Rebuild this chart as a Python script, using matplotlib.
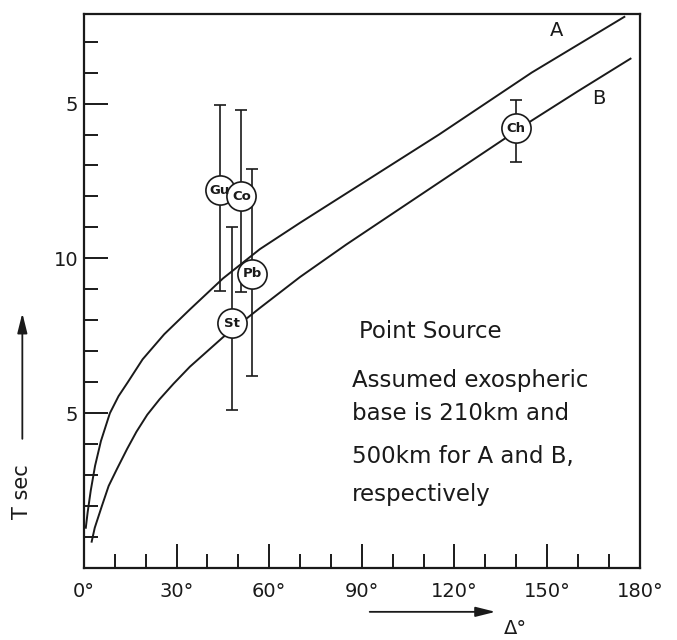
import matplotlib
matplotlib.use("Agg")
import matplotlib.pyplot as plt
from matplotlib.patches import FancyArrowPatch
from matplotlib.ticker import FixedLocator, MultipleLocator

# curve A: exospheric base 210 km
deg_a = [0.6, 1.2, 2.2, 3.6, 5.5, 8.4, 11.2, 14.2, 19, 26, 34.3, 45, 57, 70, 85, 100, 115, 130, 145, 160, 175]
t_a = [1.3, 1.8, 2.5, 3.3, 4.1, 5.0, 5.55, 6.0, 6.74, 7.55, 8.35, 9.35, 10.3, 11.15, 12.1, 13.05, 14.0, 15.0, 16.0, 16.9, 17.8]

# curve B: exospheric base 500 km
deg_b = [2.5, 3.5, 5.8, 8, 10.7, 14, 17, 20.5, 24.5, 29, 34.3, 45, 57, 70, 85, 100, 115, 130, 145, 160, 177]
t_b = [0.85, 1.3, 2.0, 2.65, 3.2, 3.85, 4.4, 4.95, 5.45, 5.95, 6.5, 7.45, 8.4, 9.4, 10.45, 11.45, 12.45, 13.45, 14.45, 15.4, 16.45]

# observed stations
stations = ["Gu", "Co", "Pb", "St", "Ch"]
station_deg = [44.0, 51.0, 54.5, 48.0, 139.8]
station_t = [12.2, 12.0, 9.5, 7.9, 14.2]
t_upper = [14.95, 14.8, 12.9, 11.0, 15.1]
t_lower = [8.95, 8.9, 6.2, 5.1, 13.1]

x_ticks = [0, 30, 60, 90, 120, 150, 180]
y_ticks = [5, 10, 15]
y_tick_labels = ["5", "10", "5"]

note_lines = [
    "Point Source",
    "Assumed exospheric",
    "base is 210km and",
    "500km for A and B,",
    "respectively",
]

plt.rcParams["font.family"] = ["DejaVu Sans"]
ink = "#1a1a1a"

fig = plt.figure(figsize=(6.77, 6.4), dpi=100)
ax = fig.add_axes([0.124, 0.1125, 0.821, 0.866])

ax.plot(deg_a, t_a, color=ink, lw=1.4, zorder=2)
ax.plot(deg_b, t_b, color=ink, lw=1.4, zorder=2)

for x, lo, hi in zip(station_deg, t_lower, t_upper):
    half = (hi - lo) / 2
    ax.errorbar([x], [lo + half], yerr=[[half], [half]], fmt="none", ecolor=ink,
                elinewidth=1.2, capsize=4, capthick=1.2, zorder=3)

ax.plot(station_deg, station_t, "o", ms=21, mfc="white", mec=ink, mew=1.2, zorder=4, ls="none")
for name, x, t in zip(stations, station_deg, station_t):
    ax.text(x, t, name, ha="center", va="center", fontsize=9.5, fontweight="bold",
            color=ink, zorder=5)

ax.set_xlim(0, 180)
ax.set_ylim(0, 17.9)

ax.xaxis.set_major_locator(FixedLocator(x_ticks))
ax.xaxis.set_minor_locator(MultipleLocator(10))
ax.set_xticklabels([f"{v}°" for v in x_ticks])
ax.yaxis.set_major_locator(FixedLocator(y_ticks))
ax.yaxis.set_minor_locator(MultipleLocator(1))
ax.set_yticklabels(y_tick_labels)

ax.tick_params(which="both", direction="in", color=ink, width=1.4, labelcolor=ink,
               labelsize=14, top=False, right=False)
ax.tick_params(axis="x", which="major", length=17, pad=10)
ax.tick_params(axis="x", which="minor", length=10)
ax.tick_params(axis="y", which="major", length=17, pad=4)
ax.tick_params(axis="y", which="minor", length=10)
for spine in ax.spines.values():
    spine.set_linewidth(1.6)
    spine.set_color(ink)

ax.text(0.851, 0.969, "A", transform=ax.transAxes, fontsize=14, ha="center", va="center", color=ink)
ax.text(0.926, 0.847, "B", transform=ax.transAxes, fontsize=14, ha="center", va="center", color=ink)

note_y = [0.426, 0.339, 0.278, 0.202, 0.132]
for i, (line, y) in enumerate(zip(note_lines, note_y)):
    ax.text(0.495 if i == 0 else 0.482, y, line, transform=ax.transAxes, fontsize=16.5,
            ha="left", va="center", color=ink)

# axis labels drawn with arrows, as in the original figure
arrow_style = "-|>,head_length=0.6,head_width=0.15"
fig.add_artist(FancyArrowPatch((0.542, 0.044), (0.736, 0.044), transform=fig.transFigure,
                               arrowstyle=arrow_style, mutation_scale=20, color=ink, lw=1.3))
fig.text(0.761, 0.018, "Δ°", fontsize=14, ha="center", va="center", color=ink)

fig.add_artist(FancyArrowPatch((0.033, 0.31), (0.033, 0.515), transform=fig.transFigure,
                               arrowstyle=arrow_style, mutation_scale=20, color=ink, lw=1.3))
fig.text(0.033, 0.232, "T sec", fontsize=15, rotation=90, ha="center", va="center", color=ink)

fig.savefig("out.png", dpi=100)
